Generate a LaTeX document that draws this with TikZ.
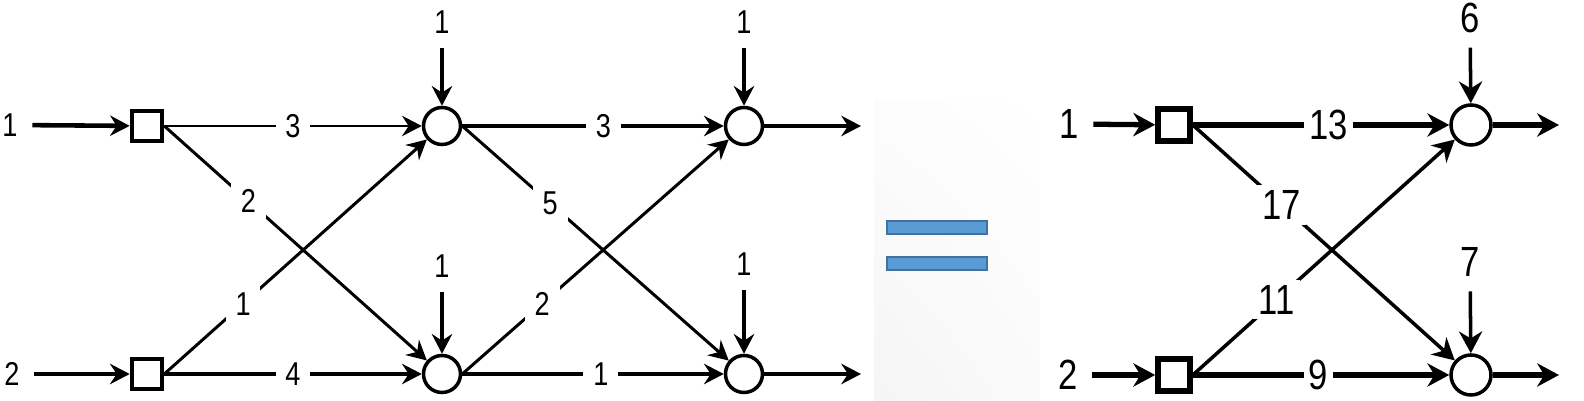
\documentclass[tikz,border=0pt]{standalone}
\usepackage{fontspec}
\setmainfont{Liberation Sans}[FakeStretch=0.82]
\usetikzlibrary{arrows.meta,shadings}
\definecolor{eqblue}{HTML}{5B9BD5}
\definecolor{eqedge}{HTML}{41719C}

\begin{document}
\begin{tikzpicture}[x=0.01cm, y=-0.01cm,
    box/.style={draw, line width=1.3pt, fill=white, minimum size=0.3cm, inner sep=0pt},
    hub/.style={draw, circle, line width=1pt, fill=white, minimum size=0.37cm, inner sep=0pt},
    flow/.style={-{Stealth[length=5.6pt, width=5.8pt, inset=1.9pt]}},
    bigflow/.style={-{Stealth[length=6.2pt, width=6.6pt, inset=2pt]}},
    num/.style={fill=white, inner sep=#1}, num/.default=2.8pt,
    src/.style={inner sep=4pt}]
  \useasboundingbox (0,0) rectangle (1584,401);
  % faint panel behind the equals sign
  \shade[upper left=black!1, upper right=white, lower left=black!4, lower right=black!2]
    (874,100) rectangle (1040,401);
  \draw[eqedge, fill=eqblue, line width=0.8pt] (887,221) rectangle (987,234);
  \draw[eqedge, fill=eqblue, line width=0.8pt] (887,257) rectangle (987,270);

  % network on the left
  \begin{scope}[font=\fontsize{9.4}{11}\selectfont]
    \node[box] (s1) at (147,126) {};
    \node[box] (s2) at (147,374) {};
    \node[hub] (c1) at (442,126) {};
    \node[hub] (c2) at (442,374) {};
    \node[hub] (c3) at (744,126) {};
    \node[hub] (c4) at (744,374) {};
    \node[src] (in1) at (10,125) {1};
    \node[src] (in2) at (12,374) {2};
    \node[src] (d1) at (442,22) {1};
    \node[src] (d2) at (442,266) {1};
    \node[src] (d3) at (744,22) {1};
    \node[src] (d4) at (744,264) {1};
    \coordinate (o3) at (861,126);
    \coordinate (o4) at (861,374);
    \draw[flow, line width=1.3pt] (in1) -- (s1);
    \draw[flow, line width=1.3pt] (in2) -- (s2);
    \draw[flow, line width=0.75pt] (s1) -- node[num] {3} (c1);
    \draw[flow, line width=0.85pt] (s1.east) -- node[num, pos=.32] {2} (c2);
    \draw[flow, line width=0.85pt] (s2.east) -- node[num, pos=.30] {1} (c1);
    \draw[flow, line width=1.2pt] (s2) -- node[num] {4} (c2);
    \draw[flow, line width=1.3pt] (c1) -- node[num, pos=.54] {3} (c3);
    \draw[flow, line width=0.85pt] (c1.east) -- node[num, pos=.33] {5} (c4);
    \draw[flow, line width=0.85pt] (c2.east) -- node[num, pos=.30] {2} (c3);
    \draw[flow, line width=1.3pt] (c2) -- node[num, pos=.53] {1} (c4);
    \draw[flow, line width=1pt] (d1) -- (c1);
    \draw[flow, line width=1pt] (d2) -- (c2);
    \draw[flow, line width=1pt] (d3) -- (c3);
    \draw[flow, line width=1pt] (d4) -- (c4);
    \draw[flow, line width=1.2pt] (c3) -- (o3);
    \draw[flow, line width=1.2pt] (c4) -- (o4);
  \end{scope}

  % reduced network on the right
  \begin{scope}[font=\fontsize{12}{14}\selectfont]
    \node[box, minimum size=0.32cm, line width=1.6pt] (s3) at (1174,125) {};
    \node[box, minimum size=0.32cm, line width=1.6pt] (s4) at (1174,375) {};
    \node[hub, minimum size=0.4cm] (c5) at (1471,125) {};
    \node[hub, minimum size=0.4cm] (c6) at (1471,375) {};
    \node[src] (in3) at (1069,124) {1};
    \node[src] (in4) at (1068,375) {2};
    \node[src] (d5) at (1470,18) {6};
    \node[src] (d6) at (1470,262) {7};
    \coordinate (o5) at (1559,125);
    \coordinate (o6) at (1559,375);
    \draw[bigflow, line width=1.5pt] (in3) -- (s3);
    \draw[bigflow, line width=1.5pt] (in4) -- (s4);
    \draw[bigflow, line width=1.6pt] (s3) -- node[num=1.5pt, pos=.53] {13} (c5);
    \draw[bigflow, line width=1pt] (s3.east) -- node[num=1.5pt, pos=.34] {17} (c6);
    \draw[bigflow, line width=1pt] (s4.east) -- node[num=1.5pt, pos=.32] {11} (c5);
    \draw[bigflow, line width=1.6pt] (s4) -- node[num=1.5pt, pos=.49] {9} (c6);
    \draw[bigflow, line width=1pt] (d5) -- (c5);
    \draw[bigflow, line width=1pt] (d6) -- (c6);
    \draw[bigflow, line width=1.5pt] (c5) -- (o5);
    \draw[bigflow, line width=1.5pt] (c6) -- (o6);
  \end{scope}
\end{tikzpicture}
\end{document}
